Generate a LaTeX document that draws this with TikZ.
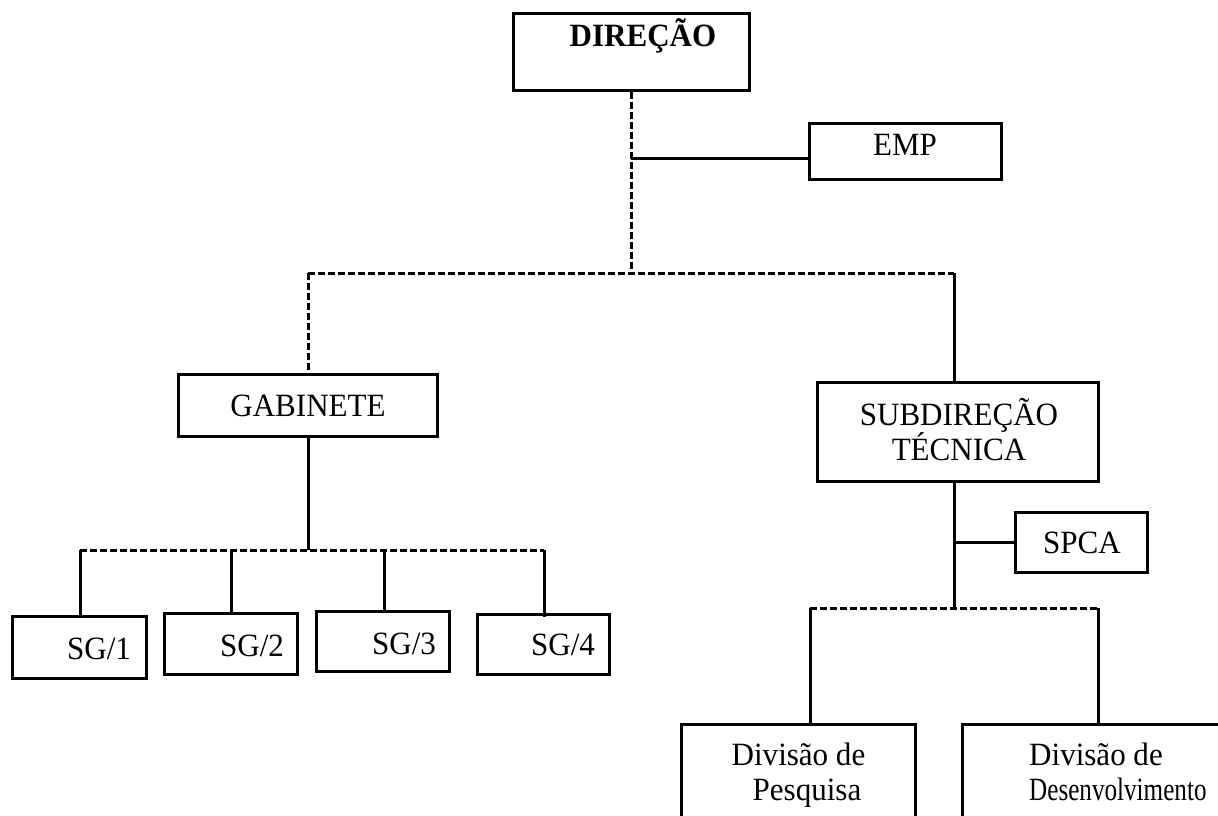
\documentclass[tikz,border=0pt]{standalone}
\usepackage{fontspec}
\setmainfont{Liberation Serif}[FakeStretch=0.955]
\usepackage{graphicx}
\begin{document}
\begin{tikzpicture}[x=1pt,y=-1pt,
  box/.style={draw, line width=3pt, rectangle, inner sep=0pt},
  txt/.style={font=\fontsize{32.5}{36}\selectfont, inner sep=0pt, anchor=base},
  solidln/.style={line width=3pt},
  dashln/.style={line width=3pt, dash pattern=on 6.5pt off 3.5pt}]
\useasboundingbox (0,0) rectangle (1218,816);
\clip (0,0) rectangle (1218,816);

% boxes
\node[box, minimum width=236pt, minimum height=77pt] (dir) at (631,52) {};
\node[box, minimum width=192pt, minimum height=56pt] (emp) at (905.5,151.5) {};
\node[box, minimum width=259pt, minimum height=62pt] (gab) at (308,405.5) {};
\node[box, minimum width=281pt, minimum height=99pt] (sub) at (958,432) {};
\node[box, minimum width=132pt, minimum height=60pt] (spca) at (1081.5,542.5) {};
\node[box, minimum width=134pt, minimum height=62pt] (sg1) at (79,647.5) {};
\node[box, minimum width=133pt, minimum height=61pt] (sg2) at (231,644) {};
\node[box, minimum width=133pt, minimum height=60pt] (sg3) at (383,641.5) {};
\node[box, minimum width=132pt, minimum height=60pt] (sg4) at (543,644.5) {};
\node[box, minimum width=234pt, minimum height=140pt] (divp) at (798.5,794.5) {};
\node[box, minimum width=278pt, minimum height=140pt] (divd) at (1101,794.5) {};

% texts
\node[txt, font=\fontsize{32.5}{36}\selectfont\bfseries] (tdir) at (643,47) {DIREÇÃO};
\node[txt] (temp) at (905,155) {EMP};
\node[txt] (tgab) at (308,416) {GABINETE};
\node[txt] (tsub1) at (959,425) {SUBDIREÇÃO};
\node[txt] (tsub2) at (959,460) {TÉCNICA};
\node[txt] (tspca) at (1082,553) {SPCA};
\node[txt] (tsg1) at (99,659) {SG/1};
\node[txt] (tsg2) at (252,656) {SG/2};
\node[txt] (tsg3) at (404,654) {SG/3};
\node[txt] (tsg4) at (563,655) {SG/4};
\node[txt] (tdp1) at (798.5,765) {Divisão de};
\node[txt] (tdp2) at (807,800) {Pesquisa};
\node[txt, anchor=base west] (tdd1) at (1029,765) {Divisão de};
\node[txt, anchor=base west] (tdd2) at (1029,800) {\scalebox{0.81}[1]{Desenvolvimento}};

% junction coordinates
\coordinate (j0) at (631,273);
\coordinate (je) at (631,158);
\coordinate (jl) at (308,273);
\coordinate (jr) at (954,273);
\coordinate (g1) at (308,550);
\coordinate (s1) at (954,608);
\coordinate (dl) at (810,608);
\coordinate (dr) at (1098,608);

% top level
\draw[dashln] (dir.south) -- (j0);
\draw[solidln] (je) -- (emp.west |- je);
\draw[dashln] (jl) -- (jr);
\draw[dashln] (jl) -- (gab.north);
\draw[solidln] (jr) -- (jr |- sub.north);

% gabinete branch
\draw[solidln] (gab.south) -- (g1);
\draw[dashln] (80,550) -- (544,550);
\draw[solidln] (80,550) -- (sg1.north -| 80,550);
\draw[solidln] (231,550) -- (sg2.north);
\draw[solidln] (384,550) -- (384,611);
\draw[solidln] (544,550) -- (544,617);

% subdirecao branch
\draw[solidln] (sub.south -| jr) -- (s1);
\draw[solidln] (jr |- spca.west) -- (spca.west);
\draw[dashln] (dl) -- (dr);
\draw[solidln] (dl) -- (dl |- divp.north);
\draw[solidln] (dr) -- (dr |- divd.north);
\end{tikzpicture}
\end{document}
